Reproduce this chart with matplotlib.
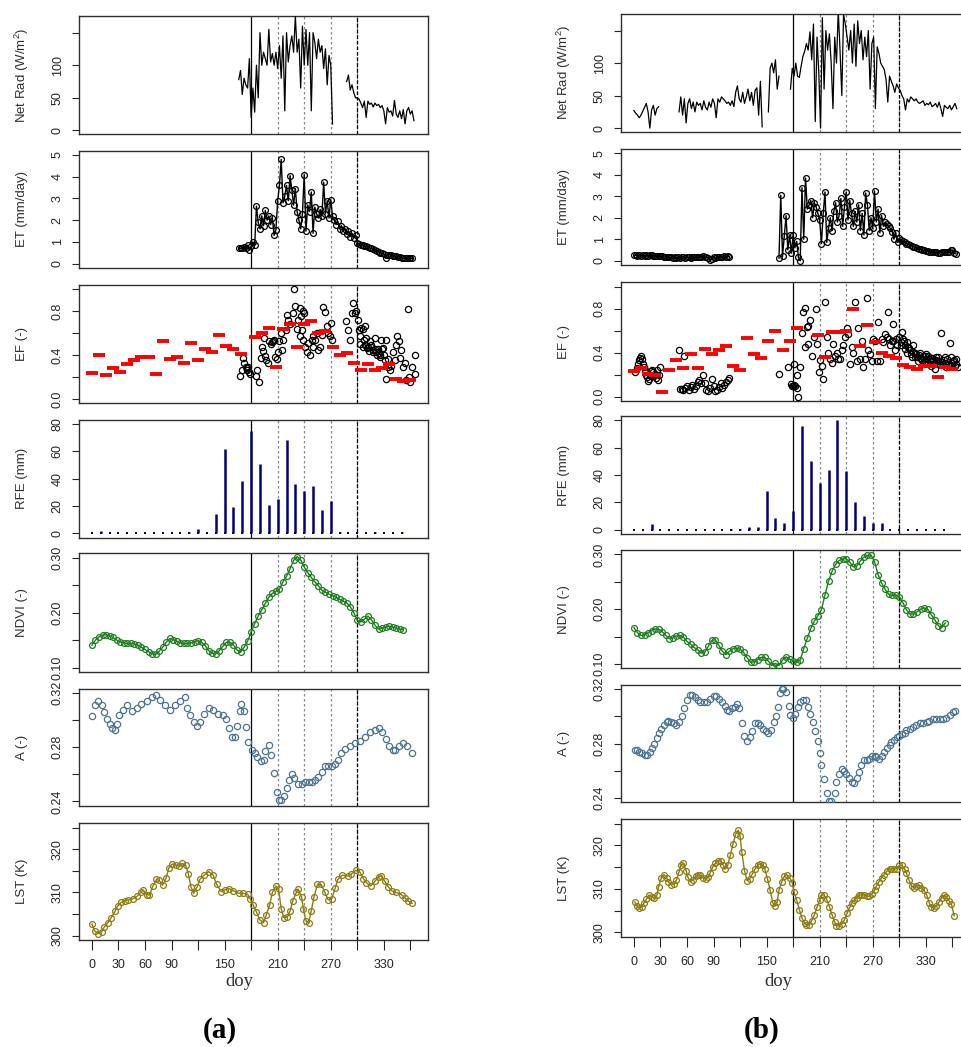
import matplotlib
matplotlib.use("Agg")
import matplotlib.pyplot as plt
import numpy as np

plt.rcParams['font.family'] = ['Liberation Sans', 'DejaVu Sans']
plt.rcParams['mathtext.default'] = 'regular'

# shared x axis
doy_ticks = np.arange(0, 361, 30)
doy_labels = ["0", "30", "60", "90", "", "150", "", "210", "", "270", "", "330", ""]
season_solid = 180
season_dotted = [210, 240, 270]
season_dashed = 300
rfe_doy = np.arange(0, 351, 10)
ef8_doy = np.arange(0, 361, 8)

# ---------------- site (a) ----------------
a_rad1_start = 166
a_rad1 = [78, 92, 55, 80, 70, 65, 110, 20, 65, 28, 100, 50, 150, 100, 120, 110, 100, 155, 105, 118,
          100, 120, 95, 130, 80, 145, 30, 150, 105, 130, 145, 120, 175, 120, 140, 65, 160, 100, 155, 100,
          150, 30, 150, 135, 110, 140, 120, 130, 95, 125, 70, 115, 100, 10]
a_rad2_start = 288
a_rad2 = [75, 85, 62, 70, 58, 50, 50, 48, 42, 35, 45, 20, 45, 40, 42, 36, 42, 38, 40, 35,
          38, 30, 10, 35, 28, 30, 22, 46, 25, 20, 30, 18, 32, 10, 30, 35, 25, 30, 15]

a_et_start = 166
a_et = [0.72, 0.70, 0.72, 0.75, 0.70, 0.85, 0.62, 0.80, 1.00, 0.85, 2.65, 1.90, 1.60, 2.20, 1.75, 2.45, 2.00, 2.20, 1.80, 2.10,
        1.30, 1.55, 2.90, 3.60, 4.80, 2.80, 3.10, 3.60, 2.90, 4.05, 3.40, 2.70, 3.45, 2.40, 2.00, 1.60, 2.30, 4.10, 1.50, 2.70,
        2.40, 3.30, 1.40, 2.60, 2.30, 2.10, 2.50, 2.20, 3.75, 2.30, 2.90, 2.10, 2.95, 2.20, 2.00, 1.80, 1.95, 1.60, 1.75, 1.50,
        1.60, 1.35, 1.50, 1.25, 1.40, 1.20, 1.30, 0.95, 0.90, 0.88, 0.85, 0.82, 0.80, 0.78, 0.72, 0.70, 0.66, 0.62, 0.58, 0.55,
        0.50, 0.48, 0.45, 0.25, 0.40, 0.42, 0.38, 0.36, 0.35, 0.33, 0.32, 0.30, 0.28, 0.27, 0.26, 0.25, 0.25, 0.24, 0.25]

a_ef_doy = [167.4, 169.3, 170.4, 171.9, 173.8, 174.9, 175.7, 176.8, 178.0, 178.7, 185.5, 186.2, 189.2, 190.7, 192.6,
            193.8, 195.6, 196.8, 198.6, 194.5, 200.5, 202.0, 203.2, 205.0, 205.8, 207.3, 208.8, 209.9, 211.8, 213.3,
            215.2, 216.3, 219.3, 220.1, 221.9, 223.9, 226.9, 228.7, 229.5, 231.4, 233.3, 235.1, 236.3, 238.1, 240.0,
            237.0, 235.1, 238.9, 240.8, 242.7, 244.5, 246.4, 248.3, 249.4, 250.2, 252.1, 254.0, 255.8, 257.7, 259.6,
            260.7, 263.4, 265.2, 267.1, 269.0, 269.8, 270.9, 287.8, 289.7, 291.6, 293.5, 295.3, 297.2, 298.3, 301.0,
            302.1, 302.9, 304.7, 305.9, 307.4, 308.5, 310.4, 312.3, 314.1, 316.0, 317.9, 319.8, 321.7, 323.6, 325.4,
            327.3, 329.2, 331.1, 332.2, 333.0, 334.8, 336.7, 340.5, 342.4, 344.2, 345.4, 347.3, 348.8, 349.9, 351.8,
            353.6, 355.5, 357.4, 358.5, 360.0, 362.3, 365.0, 365.0, 303, 306, 309, 311, 313, 315, 318, 320, 322, 324,
            326, 328, 330, 335, 338]
a_ef = [0.206, 0.262, 0.369, 0.323, 0.292, 0.262, 0.277, 0.292, 0.246, 0.231, 0.206, 0.262, 0.154, 0.369, 0.471,
        0.44, 0.391, 0.354, 0.329, 0.554, 0.523, 0.502, 0.514, 0.529, 0.538, 0.385, 0.36, 0.431, 0.523, 0.60,
        0.446, 0.538, 0.631, 0.76, 0.723, 0.686, 0.778, 1.0, 0.846, 0.637, 0.723, 0.831, 0.754, 0.80, 0.785,
        0.631, 0.569, 0.538, 0.477, 0.431, 0.508, 0.40, 0.532, 0.569, 0.477, 0.538, 0.60, 0.446, 0.477, 0.585,
        0.84, 0.791, 0.662, 0.60, 0.569, 0.692, 0.538, 0.708, 0.631, 0.538, 0.785, 0.877, 0.785, 0.80, 0.723,
        0.631, 0.569, 0.646, 0.637, 0.538, 0.662, 0.554, 0.477, 0.523, 0.492, 0.446, 0.554, 0.431, 0.452, 0.40,
        0.538, 0.462, 0.354, 0.185, 0.538, 0.292, 0.262, 0.431, 0.354, 0.492, 0.569, 0.523, 0.369, 0.446, 0.292,
        0.323, 0.169, 0.815, 0.20, 0.154, 0.292, 0.40, 0.231, 0.50, 0.47, 0.49, 0.46, 0.44, 0.47, 0.43, 0.45, 0.40, 0.42,
        0.38, 0.45, 0.40, 0.36, 0.30]
a_ef8 = [0.237, 0.40, 0.222, 0.283, 0.246, 0.317, 0.354, 0.385, 0.385, 0.23, 0.53, 0.363, 0.385, 0.33, 0.508, 0.354,
         0.455, 0.425, 0.578, 0.483, 0.455, 0.41, np.nan, 0.563, 0.60, 0.646, 0.292, 0.64, 0.686, 0.47, 0.686, 0.708,
         0.60, 0.62, 0.47, 0.40, 0.415, 0.33, 0.262, 0.317, 0.262, 0.277, 0.317, 0.185, 0.16, 0.17]

a_rfe = [0, 2, 0, 0, 0, 0, 0, 0, 0, 0, 0, 1, 3, 0, 14.5, 62, 19, 38, 75, 51,
         21, 25, 68, 36, 31, 35, 17, 24, 1, 0, 0, 0, 1, 0, 0, 1]

a_ndvi_step = 4
a_ndvi = [0.141, 0.150, 0.156, 0.159, 0.160, 0.158, 0.155, 0.150, 0.147, 0.145,
          0.144, 0.144, 0.143, 0.141, 0.137, 0.133, 0.129, 0.125, 0.124, 0.130,
          0.137, 0.146, 0.153, 0.151, 0.148, 0.145, 0.144, 0.144, 0.145, 0.147,
          0.149, 0.146, 0.140, 0.131, 0.126, 0.125, 0.131, 0.139, 0.146, 0.146,
          0.141, 0.132, 0.128, 0.137, 0.148, 0.165, 0.180, 0.194, 0.205, 0.217,
          0.228, 0.235, 0.239, 0.243, 0.256, 0.266, 0.280, 0.295, 0.302, 0.296,
          0.283, 0.273, 0.264, 0.256, 0.249, 0.241, 0.237, 0.234, 0.231, 0.228,
          0.224, 0.221, 0.218, 0.211, 0.200, 0.186, 0.183, 0.188, 0.194, 0.187,
          0.177, 0.170, 0.172, 0.174, 0.175, 0.174, 0.172, 0.170, 0.169]

a_alb_doy = [0, 3, 7, 11, 14, 17, 20, 23, 26, 28, 31, 35, 40, 45, 51, 56, 62, 68, 73, 77,
             83, 88, 94, 100, 105, 107, 111, 115, 119, 122, 127, 132, 137, 143, 148, 152, 155, 158, 162, 164,
             167, 168, 172, 174, 177, 181, 184, 187, 191, 194, 196, 200, 203, 206, 209, 212, 214, 217, 220, 223,
             226, 229, 233, 237, 241, 245, 249, 252, 256, 260, 263, 267, 271, 275, 278, 282, 286, 292, 297, 303,
             309, 314, 320, 325, 328, 332, 336, 340, 343, 347, 352, 356, 362]
a_alb = [0.303, 0.311, 0.314, 0.311, 0.306, 0.301, 0.297, 0.294, 0.293, 0.297, 0.304, 0.308, 0.311, 0.307, 0.309,
         0.312, 0.314, 0.317, 0.319, 0.315, 0.311, 0.308, 0.311, 0.314, 0.317, 0.309, 0.304, 0.299, 0.296, 0.299,
         0.305, 0.309, 0.308, 0.305, 0.304, 0.301, 0.294, 0.288, 0.288, 0.296, 0.307, 0.312, 0.307, 0.295, 0.284,
         0.278, 0.276, 0.273, 0.270, 0.271, 0.277, 0.282, 0.274, 0.261, 0.247, 0.241, 0.241, 0.244, 0.250, 0.256,
         0.260, 0.257, 0.253, 0.253, 0.254, 0.254, 0.254, 0.256, 0.258, 0.262, 0.266, 0.266, 0.266, 0.268, 0.271,
         0.276, 0.279, 0.281, 0.283, 0.285, 0.288, 0.291, 0.293, 0.294, 0.291, 0.286, 0.281, 0.278, 0.278, 0.281,
         0.283, 0.281, 0.276]

a_lst_doy = [0, 3, 7, 11, 14, 18, 22, 26, 29, 33, 37, 41, 46, 51, 55, 58, 62, 65, 69, 73,
             76, 80, 84, 87, 91, 95, 99, 102, 106, 109, 112, 115, 119, 122, 127, 132, 137, 141, 146, 150,
             155, 160, 166, 171, 176, 179, 182, 186, 190, 194, 197, 201, 204, 208, 211, 214, 217, 221, 224, 227,
             231, 233, 237, 239, 242, 245, 248, 251, 255, 259, 263, 267, 271, 275, 278, 283, 289, 293, 298, 303,
             307, 310, 315, 320, 324, 327, 331, 335, 339, 344, 350, 354, 357, 362]
a_lst = [302.7, 301.1, 300.5, 300.9, 302.0, 303.0, 304.2, 305.6, 306.8, 307.7, 308.1, 308.3, 308.5, 309.1, 310.0,
         310.5, 309.5, 309.4, 311.5, 313.0, 312.8, 311.7, 313.4, 315.7, 316.6, 316.3, 316.1, 316.7, 316.3, 314.3,
         311.3, 309.8, 311.3, 313.0, 314.0, 314.8, 314.0, 311.9, 310.2, 310.6, 310.9, 310.4, 309.8, 309.8, 309.6,
         308.5, 307.2, 305.5, 303.6, 303.0, 304.7, 307.2, 310.0, 311.5, 310.8, 306.2, 304.2, 304.3, 305.7, 308.0,
         310.0, 310.8, 308.9, 306.2, 303.4, 303.0, 305.8, 308.9, 311.9, 311.9, 310.2, 308.3, 308.5, 311.0, 313.0,
         314.0, 313.8, 314.2, 315.1, 314.7, 313.2, 312.3, 311.5, 312.6, 313.6, 313.8, 312.6, 311.3, 310.4, 310.0,
         309.5, 308.7, 308.1, 307.5]

# ---------------- site (b) ----------------
b_rad_starts = [0, 51, 152, 177]
b_rad_segs = [
    [27, 23, 20, 16, 20, 26, 32, 38, 25, 0, 28, 35, 20, 30, 33],
    [25, 48, 20, 45, 8, 38, 45, 30, 40, 25, 40, 35, 38, 28, 42, 32, 28, 40, 32, 45,
     38, 16, 45, 40, 48, 45, 42, 38, 40, 35, 42, 33, 55, 65, 45, 40, 55, 38, 48, 60,
     42, 55, 35, 58, 62, 20, 72, 2],
    [25, 92, 100, 85, 105, 60, 80],
    [60, 92, 80, 100, 80, 78, 95, 110, 118, 130, 120, 148, 105, 160, 10, 140, 85, 0, 170, 60,
     150, 120, 145, 100, 30, 140, 100, 180, 120, 50, 175, 160, 140, 120, 150, 100, 160, 95, 165, 130,
     150, 105, 140, 110, 150, 60, 130, 140, 30, 125, 115, 100, 95, 90, 75, 40, 80, 72, 65, 55,
     68, 62, 58, 50, 45, 28, 45, 40, 48, 45, 42, 45, 40, 38, 40, 42, 35, 38, 36, 40,
     33, 35, 38, 32, 40, 30, 18, 35, 32, 30, 35, 28, 33, 38, 30],
]

b_et_starts = [0, 164]
b_et_segs = [
    [0.25, 0.25, 0.24, 0.25, 0.24, 0.25, 0.24, 0.25, 0.24, 0.25, 0.25, 0.24, 0.24, 0.23, 0.22, 0.22,
     0.20, 0.18, 0.17, 0.16, 0.15, 0.15, 0.14, 0.15, 0.14, 0.15, 0.14, 0.15, 0.15, 0.14, 0.15, 0.15, 0.14, 0.15, 0.15, 0.16,
     0.17, 0.18, 0.19, 0.20, 0.18, 0.17, 0.12, 0.05, 0.08, 0.15, 0.12, 0.15, 0.16, 0.18, 0.17, 0.20, 0.19, 0.20, 0.18],
    [0.12, 3.05, 0.2, 1.15, 2.1, 0.5, 1.2, 0.35, 1.2, 0.6,
     0.9, 0.15, 0.0, 3.4, 1.0, 3.85, 2.4, 2.6, 2.8, 2.0,
     2.7, 2.5, 2.2, 1.9, 0.8, 2.2, 3.2, 0.85, 1.5, 2.0,
     1.4, 2.3, 2.7, 1.8, 2.1, 2.9, 1.6, 2.5, 3.2, 1.9,
     2.8, 2.2, 1.6, 2.3, 1.8, 2.6, 1.4, 2.2, 1.2, 3.15,
     2.6, 1.4, 2.0, 1.5, 3.25, 1.8, 2.4, 1.3, 2.1, 1.6,
     1.8, 1.7, 1.6, 1.5, 1.35, 1.0, 1.3, 0.85, 1.05, 0.95,
     0.9, 0.85, 0.8, 0.78, 0.72, 0.7, 0.66, 0.62, 0.6, 0.56,
     0.53, 0.5, 0.48, 0.46, 0.44, 0.42, 0.41, 0.4, 0.4, 0.39,
     0.38, 0.38, 0.39, 0.4, 0.4, 0.4, 0.42, 0.48, 0.5, 0.35, 0.32],
]

b_ef_doy = [1, 3, 5, 6, 7, 8, 9, 10, 11, 12, 13, 14, 15, 16, 17, 18, 19, 20, 21, 22, 24, 25, 26, 27, 28, 29,
            51, 52, 54, 56, 57, 58, 60, 62, 64, 66, 68, 70, 72, 74, 76, 78, 80, 82, 84, 86, 88, 90, 92, 94,
            96, 98, 100, 102, 104, 106, 108,
            163.5, 174.7, 177.4, 178.5, 179.6, 180.8, 182.3, 184.1, 186, 181.1, 184.1, 187.9, 189.8, 191.7, 193.5,
            195.4, 197.3, 199.2, 193.5, 196.5, 201, 203.7, 205.9, 207.4, 208.9, 210.4, 212.3, 214.2, 216.1, 218,
            219.8, 221.7, 223.6, 225.5, 227.4, 229.2, 231.1, 233, 234.9, 236.8, 238.6, 240.5, 242.4, 244.3, 246.1,
            248, 249.9, 251.8, 253.7, 255.5, 257.4, 259.3, 261.2, 263.1, 264.9, 266.8, 268.7, 270.6, 272.5, 274.3,
            276.2, 278.1, 280, 281.9, 283.7, 285.6, 287.5, 288.6, 289.4, 291.2, 292.4, 293.1, 295, 296.1, 297.6,
            299.9, 301.4, 303.6, 305.2, 306.3, 308.2, 310, 311.9, 313.8, 315.7, 317.5, 319.4, 321.3, 323.2, 325.1,
            327, 328.8, 330.7, 332.6, 334.5, 336.3, 338.2, 340.1, 342, 343.9, 345.7, 347.6, 349.5, 351.4, 353.3,
            355.1, 357, 358.9, 360.8, 362.6, 364.5, 366.4,
            302, 304, 307, 309, 311, 314, 316, 318, 320, 322, 324, 326, 329, 331, 333, 335, 337, 339, 341, 344,
            346, 348, 350, 352, 354, 356, 358, 360, 362, 364]
b_ef = [0.22, 0.26, 0.30, 0.33, 0.35, 0.37, 0.34, 0.30, 0.27, 0.24, 0.22, 0.20, 0.18, 0.14, 0.16, 0.20, 0.23, 0.24,
        0.19, 0.22, 0.21, 0.17, 0.24, 0.15, 0.20, 0.27,
        0.42, 0.07, 0.07, 0.06, 0.37, 0.08, 0.10, 0.06, 0.09, 0.11, 0.07, 0.10, 0.13, 0.15, 0.12, 0.20, 0.12, 0.06,
        0.05, 0.08, 0.16, 0.10, 0.05, 0.06, 0.09, 0.12, 0.08, 0.11, 0.13, 0.15, 0.17,
        0.21, 0.265, 0.117, 0.095, 0.10, 0.105, 0.095, 0.08, 0.0, 0.295, 0.20, 0.265, 0.578, 0.77, 0.81,
        0.63, 0.64, 0.70, 0.45, 0.48, 0.37, 0.54, 0.80, 0.48, 0.22, 0.33, 0.28, 0.157, 0.865, 0.54,
        0.40, 0.34, 0.31, 0.48, 0.37, 0.40, 0.34, 0.34, 0.42, 0.465, 0.54, 0.62, 0.57, 0.295, 0.45,
        0.40, 0.865, 0.326, 0.62, 0.34, 0.51, 0.265, 0.34, 0.895, 0.42, 0.39, 0.326, 0.526, 0.51, 0.326,
        0.68, 0.326, 0.526, 0.495, 0.57, 0.54, 0.77, 0.526, 0.465, 0.51, 0.665, 0.51, 0.42, 0.526, 0.465,
        0.54, 0.495, 0.588, 0.51, 0.434, 0.495, 0.45, 0.42, 0.39, 0.465, 0.357, 0.39, 0.326, 0.40, 0.34,
        0.37, 0.326, 0.39, 0.31, 0.34, 0.28, 0.326, 0.25, 0.357, 0.326, 0.295, 0.578, 0.295, 0.357, 0.265,
        0.295, 0.486, 0.357, 0.326, 0.28, 0.34, 0.265,
        0.47, 0.52, 0.47, 0.40, 0.44, 0.36, 0.41, 0.40, 0.36, 0.38, 0.35, 0.33, 0.37, 0.34, 0.37, 0.32, 0.35, 0.30,
        0.33, 0.36, 0.32, 0.30, 0.33, 0.31, 0.34, 0.30, 0.28, 0.31, 0.33, 0.30]
b_ef8 = [0.237, 0.258, 0.203, 0.197, 0.046, 0.246, 0.332, 0.258, 0.388, 0.258, 0.434, 0.388, 0.425, 0.458, 0.28,
         0.246, 0.529, 0.388, 0.351, 0.508, 0.60, 0.425, 0.505, 0.625, np.nan, np.nan, 0.563, 0.363, 0.585, 0.585,
         0.594, 0.80, 0.462, 0.649, 0.498, 0.394, 0.369, 0.351, 0.283, 0.271, 0.249, 0.28, 0.28, 0.178, 0.265, 0.249]

b_rfe = [0, 0, 4, 0, 0, 0, 0, 0, 0, 0, 0, 1, 1, 2, 2, 28.5, 9, 5, 13.5, 75.5,
         50, 34, 44, 80, 43, 20, 10, 5, 5, 0, 0, 0, 0, 0, 0, 0]

b_ndvi_step = 4
b_ndvi = [0.166, 0.157, 0.152, 0.153, 0.157, 0.161, 0.164, 0.163, 0.159, 0.152,
          0.146, 0.148, 0.151, 0.152, 0.149, 0.141, 0.136, 0.130, 0.126, 0.120,
          0.121, 0.132, 0.143, 0.144, 0.134, 0.123, 0.117, 0.123, 0.128, 0.129,
          0.127, 0.121, 0.111, 0.103, 0.104, 0.108, 0.112, 0.112, 0.105, 0.097,
          0.101, 0.097, 0.107, 0.113, 0.109, 0.106, 0.103, 0.107, 0.128, 0.147,
          0.165, 0.178, 0.188, 0.199, 0.226, 0.251, 0.269, 0.282, 0.289, 0.292,
          0.292, 0.286, 0.277, 0.279, 0.288, 0.295, 0.298, 0.299, 0.287, 0.263,
          0.248, 0.236, 0.227, 0.225, 0.226, 0.223, 0.212, 0.199, 0.191, 0.191,
          0.195, 0.200, 0.202, 0.200, 0.190, 0.181, 0.170, 0.166, 0.175]

b_alb_doy = [1, 4, 6, 9, 12, 15, 18, 21, 23, 26, 28, 31, 34, 37, 39, 42, 45, 48, 51, 54,
             57, 60, 63, 66, 69, 72, 75, 79, 83, 86, 90, 93, 96, 100, 103, 105, 108, 111, 114, 117,
             119, 122, 125, 128, 131, 134, 137, 140, 143, 146, 149, 152, 155, 158, 161, 163, 165, 167, 169, 172,
             175, 177, 180, 182, 185, 188, 191, 194, 197, 199, 202, 205, 208, 210, 212, 215, 218, 220, 223, 227,
             229, 232, 235, 238, 240, 243, 246, 249, 252, 254, 257, 260, 263, 266, 269, 272, 274, 277, 280, 283,
             286, 289, 291, 294, 297, 300, 303, 306, 308, 312, 316, 319, 323, 327, 331, 334, 338, 342, 346, 349,
             353, 357, 361, 363]
b_alb = [0.275, 0.275, 0.274, 0.273, 0.272, 0.272, 0.274, 0.277, 0.280, 0.284, 0.288, 0.291, 0.294, 0.296, 0.297,
         0.296, 0.295, 0.294, 0.296, 0.300, 0.306, 0.312, 0.316, 0.316, 0.314, 0.312, 0.311, 0.311, 0.311, 0.313,
         0.315, 0.315, 0.313, 0.311, 0.308, 0.305, 0.304, 0.306, 0.307, 0.309, 0.306, 0.295, 0.286, 0.282, 0.285,
         0.289, 0.295, 0.295, 0.294, 0.291, 0.289, 0.288, 0.290, 0.296, 0.300, 0.307, 0.317, 0.320, 0.320, 0.318,
         0.308, 0.301, 0.299, 0.302, 0.307, 0.311, 0.312, 0.312, 0.307, 0.302, 0.296, 0.289, 0.282, 0.273, 0.264,
         0.254, 0.244, 0.238, 0.238, 0.244, 0.252, 0.258, 0.261, 0.260, 0.258, 0.255, 0.252, 0.251, 0.255, 0.259,
         0.264, 0.268, 0.268, 0.269, 0.271, 0.271, 0.270, 0.269, 0.271, 0.274, 0.277, 0.279, 0.281, 0.283, 0.285,
         0.286, 0.287, 0.288, 0.290, 0.291, 0.292, 0.294, 0.295, 0.295, 0.296, 0.297, 0.298, 0.298, 0.298, 0.298,
         0.299, 0.301, 0.303, 0.304]

b_lst_doy = [1, 3, 6, 9, 11, 14, 17, 20, 23, 26, 28, 31, 34, 37, 39, 42, 45, 48, 51, 53,
             56, 59, 61, 64, 67, 70, 73, 75, 78, 81, 84, 86, 89, 92, 95, 98, 101, 103, 106, 109,
             112, 115, 118, 120, 122, 125, 128, 131, 134, 137, 140, 143, 146, 148, 151, 154, 157, 159, 162, 164,
             167, 170, 173, 176, 179, 181, 184, 187, 190, 193, 195, 198, 201, 204, 207, 210, 212, 215, 218, 221,
             224, 227, 229, 232, 235, 238, 241, 244, 246, 249, 252, 255, 257, 260, 263, 266, 269, 272, 274, 277,
             280, 283, 286, 289, 291, 294, 297, 300, 303, 306, 308, 311, 314, 317, 319, 322, 325, 328, 331, 334,
             336, 339, 342, 345, 348, 351, 353, 356, 359, 362]
b_lst = [307.0, 306.1, 305.5, 305.9, 306.7, 307.6, 308.6, 308.2, 307.8, 308.6, 310.5, 312.6, 313.3, 312.6, 311.6,
         311.0, 311.1, 312.0, 313.9, 315.4, 315.9, 314.2, 312.7, 311.6, 312.1, 312.9, 313.3, 313.1, 312.6, 312.2,
         312.7, 313.6, 315.0, 315.9, 316.5, 316.4, 315.4, 314.5, 315.4, 317.7, 320.3, 322.6, 323.5, 322.2, 318.4,
         314.2, 311.9, 312.3, 313.5, 314.6, 315.4, 315.8, 315.4, 314.6, 312.3, 309.7, 306.8, 306.1, 307.0, 309.7,
         311.6, 312.9, 313.1, 312.6, 311.4, 309.3, 307.4, 305.2, 303.3, 302.1, 301.7, 301.7, 302.7, 304.0, 305.8,
         307.4, 308.6, 308.6, 307.6, 305.9, 304.0, 302.3, 301.5, 301.5, 302.0, 302.9, 304.4, 305.8, 306.7, 307.4,
         308.0, 308.6, 308.6, 308.6, 308.3, 308.3, 308.8, 309.7, 310.6, 311.6, 312.6, 313.3, 314.1, 314.6, 314.6,
         314.6, 314.6, 315.4, 315.4, 314.6, 313.6, 312.0, 310.6, 310.3, 310.6, 310.8, 310.3, 309.7, 308.6, 306.7,
         305.8, 305.5, 306.1, 307.0, 308.0, 308.6, 308.2, 307.3, 306.5, 303.8]

# ---------------- layout ----------------
W, H = 961.0, 1047.0
fig = plt.figure(figsize=(9.61, 10.47), dpi=100)
fig.patch.set_facecolor("white")

rows_a = [(16, 134), (150.7, 268), (284.7, 403.3), (419.7, 537.7), (553.3, 672), (689, 805.7), (823.3, 940)]
rows_b = [(14, 131.7), (149, 265), (282.3, 401), (415.7, 534.3), (550, 668.3), (685, 802.3), (819.3, 936.7)]
ax_w = 348.7

ylabels = ["Net Rad (W/m$^2$)", "ET (mm/day)", "EF (-)", "RFE (mm)", "NDVI (-)", "A (-)", "LST (K)"]
yticks = [[0, 50, 100, 150], [0, 1, 2, 3, 4, 5], [0, 0.2, 0.4, 0.6, 0.8, 1.0], [0, 20, 40, 60, 80],
          [0.10, 0.15, 0.20, 0.25, 0.30], [0.24, 0.26, 0.28, 0.30, 0.32], [300, 305, 310, 315, 320, 325]]
yticklabels = [["0", "50", "100", ""], ["0", "1", "2", "3", "4", "5"], ["0.0", "", "0.4", "", "0.8", ""],
               ["0", "20", "40", "60", "80"], ["0.10", "", "0.20", "", "0.30"], ["0.24", "", "0.28", "", "0.32"],
               ["300", "", "310", "", "320", ""]]
ylims = [(-5.5, 175.5), (-0.2, 5.2), (-0.04, 1.04), (-3.2, 83.2), (0.092, 0.308), (0.2368, 0.3232), (299, 326)]

tick_col = "#262626"
c_ndvi = "#1f7f1f"
c_alb = "#4d7593"
c_lst = "#8c7c12"
c_rfe = "#00007f"


def make_column(x0, rows):
    axes = []
    for i, (top, bot) in enumerate(rows):
        ax = fig.add_axes([x0 / W, 1 - bot / H, ax_w / W, (bot - top) / H])
        ax.set_xlim(-14.6, 379.6)
        ax.set_ylim(*ylims[i])
        ax.set_yticks(yticks[i])
        ax.set_yticklabels(yticklabels[i], rotation=90, va="center")
        ax.tick_params(axis="y", direction="out", length=5, width=0.8, pad=6, labelsize=9,
                       colors=tick_col)
        ax.tick_params(axis="x", bottom=False, labelbottom=False)
        for s in ax.spines.values():
            s.set_linewidth(1.0)
            s.set_color("#303030")
        ax.axvline(season_solid, color="black", lw=0.9, zorder=1)
        for d in season_dotted:
            ax.axvline(d, color="#8a8a8a", lw=0.9, ls=(0, (2, 2)), zorder=1)
        ax.axvline(season_dashed, color="#8a8a8a", lw=0.9, ls=(0, (2, 2)), zorder=1)
        ax.axvline(season_dashed, color="black", lw=0.9, ls=(0, (3, 1.5)), zorder=1)
        fig.text((x0 - 57) / W, 1 - (top + bot) / 2 / H, ylabels[i], rotation=90,
                 ha="center", va="center", fontsize=9.5, color="#303030")
        axes.append(ax)
    bx = axes[-1]
    bx.set_xticks(doy_ticks)
    bx.set_xticklabels(doy_labels)
    bx.tick_params(axis="x", bottom=True, labelbottom=True, direction="out", length=7, width=0.8,
                   pad=7, labelsize=9, colors=tick_col)
    return axes


def circles(ax, x, y, color, line=True, ms=4.2):
    ax.plot(x, y, "-o" if line else "o", color=color, ms=ms, mfc="none", mew=0.9, lw=1.0,
            zorder=3)


def draw(axes, rad_parts, et_parts, ef_doy, ef, ef8, rfe, ndvi, ndvi_step, alb_doy, alb, lst_doy, lst):
    for start, vals in rad_parts:
        ax = axes[0]
        ax.plot(start + 2 * np.arange(len(vals)), vals, color="black", lw=0.9, zorder=3)
    for start, vals in et_parts:
        circles(axes[1], start + 2 * np.arange(len(vals)), vals, "black")
    axes[2].plot(ef_doy, ef, "o", color="black", ms=4.5, mfc="none", mew=0.9, zorder=3)
    axes[2].plot(ef8_doy, ef8, "_", color="red", ms=8.5, mew=2.8, zorder=4)
    axes[3].vlines(rfe_doy, 0, rfe, color=c_rfe, lw=1.8, zorder=3)
    axes[3].plot(rfe_doy, np.zeros(len(rfe)), "s", color=c_rfe, ms=1.5, mew=0, zorder=3)
    circles(axes[4], ndvi_step * np.arange(len(ndvi)), ndvi, c_ndvi)
    circles(axes[5], alb_doy, alb, c_alb, line=False, ms=4.5)
    circles(axes[6], lst_doy, lst, c_lst)


axes_a = make_column(79, rows_a)
axes_b = make_column(621, rows_b)

draw(axes_a, [(a_rad1_start, a_rad1), (a_rad2_start, a_rad2)], [(a_et_start, a_et)],
     a_ef_doy, a_ef, a_ef8, a_rfe, a_ndvi, a_ndvi_step, a_alb_doy, a_alb, a_lst_doy, a_lst)
draw(axes_b, list(zip(b_rad_starts, b_rad_segs)), list(zip(b_et_starts, b_et_segs)),
     b_ef_doy, b_ef, b_ef8, b_rfe, b_ndvi, b_ndvi_step, b_alb_doy, b_alb, b_lst_doy, b_lst)

for xc in (239, 778):
    fig.text(xc / W, 1 - 981 / H, "doy", ha="center", va="center", fontsize=13.5,
             family="Liberation Serif", color="#303030")
fig.text(220 / W, 1 - 1030 / H, "(a)", ha="center", va="center", fontsize=21,
         family="Liberation Serif", weight="bold")
fig.text(762 / W, 1 - 1030 / H, "(b)", ha="center", va="center", fontsize=21,
         family="Liberation Serif", weight="bold")

fig.savefig("out.png", dpi=100)
